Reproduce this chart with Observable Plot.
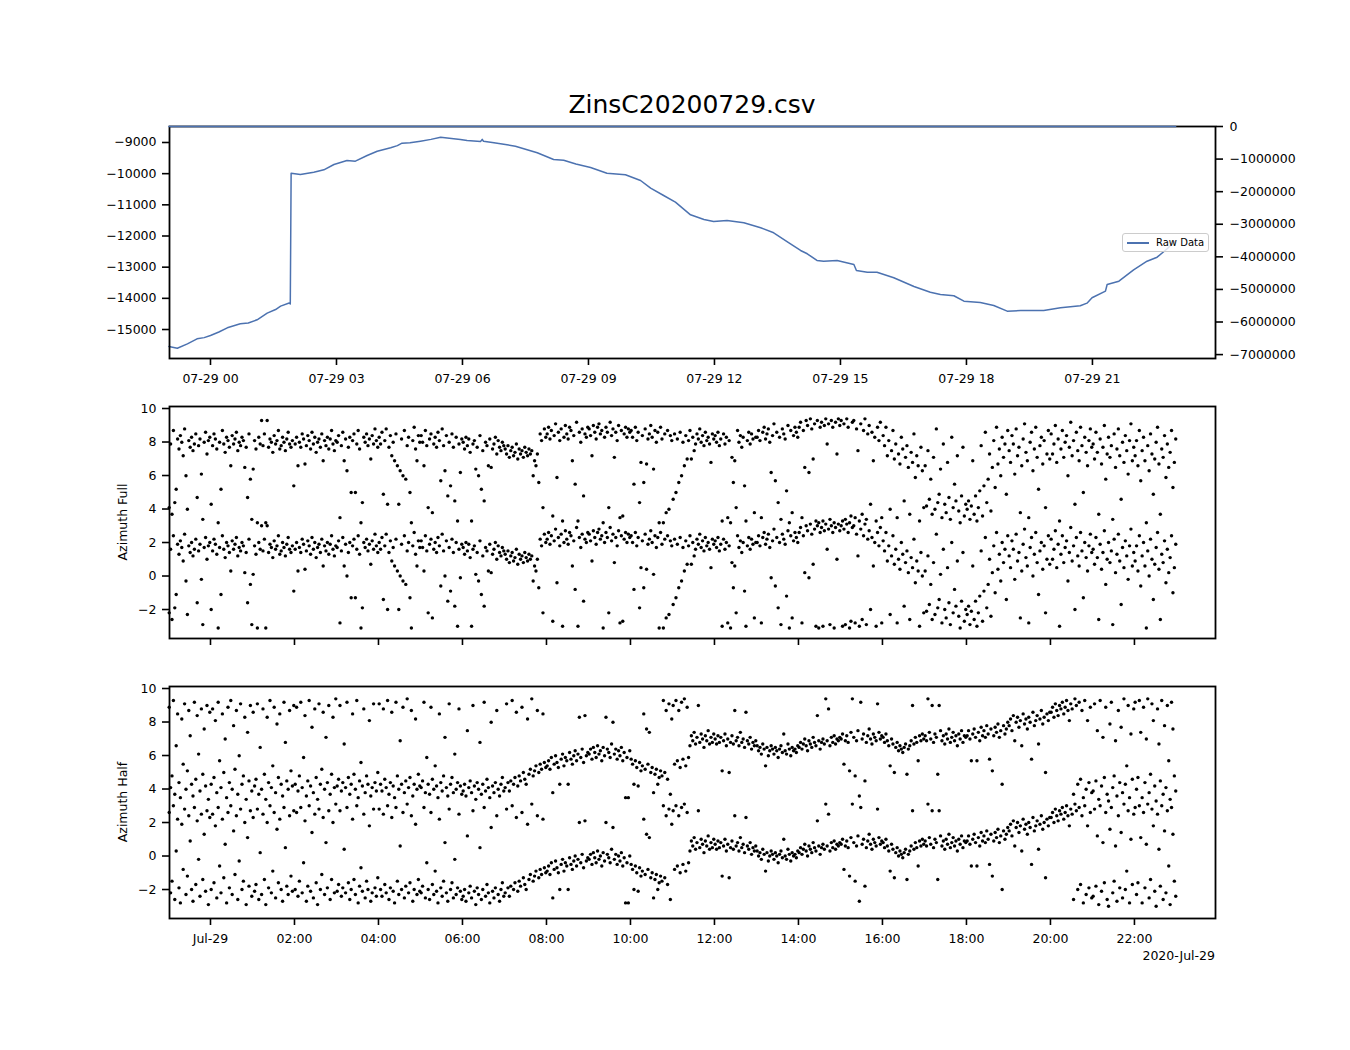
<!DOCTYPE html>
<html>
<head>
<meta charset="utf-8">
<script src="https://cdn.jsdelivr.net/npm/d3@7"></script>
<script src="https://cdn.jsdelivr.net/npm/@observablehq/plot@0.6"></script>
<style>
  html, body { margin: 0; padding: 0; background: #fff; }
  #fig { position: relative; width: 1350px; height: 1050px; background: #fff; font-family: "DejaVu Sans", sans-serif; color: #000; overflow: hidden; }
  #fig .layer { position: absolute; left: 0; }
  #fig svg { display: block; }
  .title { position: absolute; left: 169px; width: 1046px; top: 90px; line-height: 30px; text-align: center; font-size: 25px; }
  .ylab { position: absolute; left: 122px; transform: translate(-50%, -50%) rotate(-90deg); white-space: nowrap; font-size: 12.5px; }
  .offset { position: absolute; right: 135px; top: 948px; font-size: 12.5px; }
  .legend { position: absolute; left: 1122px; top: 233px; width: 85px; height: 17px; border: 1px solid #cccccc; border-radius: 3px; background: rgba(255,255,255,0.8); font-size: 10px; }
  .legend .sw { position: absolute; left: 4px; top: 8px; width: 22px; height: 1.5px; background: #4C72B0; }
  .legend .lt { position: absolute; left: 33px; top: 2px; line-height: 13px; }
</style>
</head>
<body>
<div id="fig">
  <div class="title">ZinsC20200729.csv</div>
  <div class="layer" id="p1" style="top:0"></div>
  <div class="layer" id="p1r" style="top:0"></div>
  <div class="legend"><div class="sw"></div><div class="lt">Raw Data</div></div>
  <div class="layer" id="p2" style="top:395px"></div>
  <div class="layer" id="p3" style="top:655px"></div>
  <div class="ylab" style="top:522px">Azimuth Full</div>
  <div class="ylab" style="top:802px">Azimuth Half</div>
  <div class="offset">2020-Jul-29</div>
</div>
<script>
// ---------------- DATA ----------------
// Raw data line: hours relative to 2020-07-29 00:00 (UTC) and values
const rawHours = [-0.99,-0.79,-0.55,-0.32,-0.15,0.0,0.2,0.4,0.71,0.9,1.11,1.35,1.55,1.67,1.89,1.90,1.92,2.14,2.46,2.70,2.94,3.25,3.45,3.73,3.97,4.29,4.45,4.56,4.75,5.0,5.25,5.48,5.79,5.95,6.11,6.43,6.47,6.50,6.75,7.06,7.26,7.78,8.17,8.41,8.7,9.05,9.44,9.88,10.24,10.48,10.79,11.07,11.43,11.75,11.98,12.30,12.70,13.10,13.41,13.81,14.05,14.21,14.44,14.60,14.92,15.32,15.38,15.64,15.87,16.27,16.75,17.14,17.38,17.70,17.94,18.33,18.65,18.97,19.29,19.84,20.24,20.71,20.87,20.99,21.31,21.35,21.63,21.98,22.30,22.54,22.78,22.98];
const rawValues = [-15545,-15600,-15460,-15300,-15260,-15190,-15080,-14945,-14817,-14790,-14688,-14475,-14360,-14251,-14143,-14180,-9985,-10027,-9952,-9876,-9706,-9577,-9600,-9417,-9279,-9170,-9100,-9022,-9010,-8958,-8900,-8830,-8881,-8904,-8936,-8968,-8900,-8960,-9010,-9075,-9118,-9331,-9545,-9567,-9690,-9800,-9985,-10036,-10219,-10466,-10700,-10915,-11320,-11470,-11534,-11502,-11576,-11736,-11897,-12250,-12465,-12570,-12785,-12808,-12785,-12914,-13106,-13161,-13161,-13340,-13620,-13802,-13876,-13918,-14091,-14133,-14229,-14412,-14390,-14390,-14303,-14239,-14155,-13982,-13770,-13555,-13449,-13084,-12808,-12680,-12410,-12150];
// second (right-axis) series: flat at 0 over the same span
const rightHours = [-0.99, 22.98];
const rightValues = [0, 0];

// Azimuth samples: one every 2 minutes starting 2020-07-28 23:01; each shown at a and a+2π
const sampleStartHour = -59 / 60;
const sampleStepMinutes = 2;
const fullAngles = [
 -2.2,1.6,-2.6,2.4,-1.9,-1.1,1.9,1.3,2.1,1.7,0.9,2.5,-0.3,-2.3,1.8,1.4,2.0,1.2,1.6,2.2,-1.6,1.5,1.9,-0.2,-2.9,1.7,2.3,1.0,1.8,2.0,
 -2.0,1.5,2.2,1.9,1.3,-3.1,1.7,-1.1,2.4,1.6,1.1,2.0,1.8,1.4,0.3,2.1,1.6,1.9,2.3,1.2,1.7,1.5,2.0,1.8,0.2,1.4,-1.6,2.2,-0.5,-2.9,
 0.1,1.8,1.3,-3.1,2.0,1.6,3.0,1.5,2.2,-3.1,3.0,1.4,1.9,1.7,1.1,2.1,1.6,1.8,2.4,1.3,1.5,2.0,1.7,1.2,1.9,2.3,1.6,1.4,1.8,-0.9,
 1.6,2.0,0.3,1.7,1.4,2.2,1.9,0.4,1.5,2.1,1.8,1.3,2.3,1.6,2.0,1.1,1.7,1.9,1.4,2.2,0.6,1.8,1.5,2.0,1.3,1.9,2.4,1.6,1.2,1.8,
 1.7,2.1,-2.8,1.5,2.3,0.6,1.9,0.0,1.4,2.0,-1.3,1.8,2.2,-1.3,1.6,2.4,1.3,-3.1,-1.9,2.0,1.7,2.2,1.5,1.9,0.7,2.1,1.6,2.5,1.8,1.4,
 2.0,1.6,2.3,-1.4,1.8,2.5,-2.0,1.4,2.1,0.9,1.7,0.6,2.2,0.3,-2.0,0.0,1.9,-0.3,2.4,-0.5,1.5,2.0,-1.3,-3.1,1.8,2.6,1.3,0.6,2.1,1.7,
 2.1,1.7,0.3,2.4,1.5,-2.2,1.9,2.2,-2.5,1.6,2.0,1.4,2.3,1.8,-0.6,2.5,1.5,0.0,2.1,-1.5,1.7,-0.9,2.2,1.4,-1.8,2.0,-3.0,1.6,-0.1,1.9,
 1.7,1.3,2.0,1.5,1.9,1.1,-3.0,1.6,1.8,0.1,1.4,-0.3,2.1,-1.1,1.2,-1.8,1.7,1.5,0.3,1.9,0.2,1.3,1.6,2.0,1.0,1.8,1.4,1.2,1.7,1.5,
 1.3,1.0,1.5,0.8,1.2,1.4,0.9,1.1,1.6,0.7,1.3,1.0,1.2,0.8,1.4,1.1,0.9,1.3,1.0,1.2,-0.3,0.6,0.3,1.0,-0.7,2.2,1.8,-2.2,2.5,2.0,
 2.2,2.6,1.9,2.4,-2.7,2.1,2.8,-0.4,2.3,1.8,2.5,-3.0,2.0,2.7,2.2,1.9,2.6,2.4,0.6,2.1,-0.8,2.9,-3.0,2.3,1.7,2.5,-1.5,2.2,2.0,2.6,
 2.5,2.1,0.9,2.7,2.3,1.9,2.6,2.8,2.2,2.4,-3.1,2.0,2.6,2.3,-2.2,2.9,2.1,2.5,0.8,2.3,1.8,2.7,-2.8,2.4,-2.7,2.2,2.6,2.0,2.5,2.3,
 2.4,2.0,-0.8,2.6,1.8,2.3,-1.9,0.5,2.1,-0.7,2.5,0.4,1.9,2.2,2.7,2.0,0.1,2.4,1.7,2.3,-3.1,2.6,1.9,-3.1,2.2,-2.5,2.4,-2.3,2.1,1.8,
 -1.7,2.2,-1.3,1.9,-0.7,2.3,-0.3,1.7,0.3,2.1,0.7,1.8,2.4,0.7,2.0,1.2,1.6,2.2,1.9,2.5,1.7,2.1,1.5,2.3,1.8,2.0,1.6,0.5,2.2,1.9,
 2.1,1.7,2.3,1.5,1.9,-3.0,2.2,1.6,2.0,-2.8,1.8,-3.1,0.8,-0.7,0.6,-2.2,2.4,1.7,2.1,1.4,2.0,-0.9,-3.0,1.8,2.3,1.6,2.2,1.9,-2.5,2.0,
 2.0,2.4,1.8,-2.8,2.3,2.6,1.9,2.2,2.5,1.7,-0.1,2.1,2.8,-0.6,2.3,-1.9,2.0,-2.9,2.5,2.2,1.9,-1.2,2.7,-3.1,2.4,-2.5,2.1,2.6,2.3,2.0,
 2.6,2.9,-2.8,2.4,0.2,3.0,2.7,-0.1,3.1,2.5,0.7,2.8,-3.0,3.0,-3.1,2.6,2.9,-3.0,2.7,3.1,1.6,2.8,-2.9,3.0,2.6,-3.1,2.9,1.0,3.1,2.7,
 3.0,-3.0,2.8,-2.9,3.1,2.6,-3.1,-2.7,2.9,3.0,-2.8,2.5,1.2,-3.0,2.8,-2.6,2.4,3.1,-2.9,2.2,2.7,-2.0,2.3,0.6,2.0,-3.0,2.6,1.8,2.9,-2.8,
 2.1,1.5,2.6,0.9,1.8,-2.3,1.2,2.4,0.7,1.6,-2.8,1.0,0.4,2.0,1.3,-1.8,0.8,1.5,0.2,-2.6,1.1,0.5,2.2,-0.4,0.9,0.3,-3.0,1.4,0.0,-2.2,
 0.3,-2.1,1.2,-1.7,-0.5,-2.6,0.8,-2.3,2.5,-1.9,-1.4,0.1,-2.8,1.6,-2.0,-2.5,0.5,-1.6,-2.9,2.0,-2.2,-0.8,-1.8,0.9,-2.4,-3.1,-1.5,1.4,-2.7,-2.0,
 -2.3,-1.8,-2.9,-2.1,0.6,-2.6,-1.5,-3.0,-2.2,-1.2,1.5,-2.7,-0.9,2.3,-1.9,-0.5,1.0,-2.4,0.2,1.8,-1.0,2.6,0.4,1.3,-0.3,2.0,0.8,1.6,-1.4,2.4,
 1.2,0.5,2.1,1.6,-0.2,2.5,0.9,1.4,-2.5,0.3,1.9,2.8,1.1,0.6,-2.8,1.7,2.3,0.0,1.3,2.6,0.8,-1.1,1.5,2.0,0.4,1.8,-2.2,1.0,2.4,0.7,
 2.2,1.0,1.6,2.7,0.5,1.9,-3.0,1.3,2.4,0.8,1.7,2.1,-0.3,1.4,2.9,0.9,1.8,-2.0,2.3,1.2,0.6,2.6,1.5,-1.3,2.0,1.1,0.3,1.8,2.5,1.4,
 1.6,0.7,2.3,1.1,-2.6,1.9,0.4,1.4,2.7,-0.5,1.0,2.0,0.8,1.5,-2.9,2.2,0.2,1.3,2.5,0.9,-1.7,1.7,0.5,2.1,1.2,-0.2,1.8,2.8,0.6,1.4,
 0.9,1.8,0.3,2.4,-0.6,1.2,2.0,0.6,-3.1,1.5,0.0,2.2,1.0,-1.4,0.7,1.7,2.6,0.4,-2.6,1.3,0.8,2.1,-0.4,1.6,0.2,1.1,2.4,-1.0,0.5,1.9
];
const halfAngles = [
 2.6,-2.2,-1.5,3.0,-2.6,0.3,2.2,-1.9,-2.8,1.9,-0.8,2.8,-2.3,-1.2,2.4,0.9,-2.0,-2.7,2.9,-1.7,2.1,-0.2,-2.4,2.5,-1.4,1.3,-2.1,2.7,-2.9,2.3,
 -2.0,2.5,-1.6,1.8,-2.5,2.9,-0.6,-2.2,2.2,-1.3,0.7,-2.8,2.6,-1.9,3.0,-2.3,1.5,-1.1,2.4,-2.6,-0.3,2.8,-2.0,-1.5,2.0,-2.9,1.1,-1.8,2.7,-2.4,
 2.3,-2.1,-1.7,2.8,-2.6,0.2,-2.3,2.5,-1.4,-2.9,2.0,-1.9,3.0,-2.2,-0.9,2.6,-2.5,1.6,-1.6,2.2,-2.0,-2.7,2.9,0.5,-1.8,-2.3,2.4,-1.2,-2.1,2.7,
 -2.0,2.6,-2.4,-1.5,2.9,-2.2,-0.4,2.1,-2.7,-1.8,3.0,-2.1,1.4,-2.5,2.5,-1.6,-2.9,2.8,-2.0,-1.1,2.3,-2.3,0.8,-1.9,2.7,-2.6,-1.4,2.0,-2.2,3.1,
 -2.1,-1.7,2.7,-2.4,-1.9,0.4,-2.2,2.9,-1.6,-2.6,-2.0,2.2,-1.4,-2.3,3.0,-2.8,-1.8,-0.7,-2.1,2.5,-2.5,-1.5,-2.0,1.8,-2.7,-2.2,2.8,-1.9,-2.4,-1.3,
 2.8,-2.0,-2.4,2.5,-1.7,-2.2,3.0,-2.6,-1.9,2.3,-2.1,-2.8,2.9,-1.5,-2.3,0.6,-2.0,2.6,-2.5,-1.8,3.1,-2.2,-1.6,2.4,-2.7,-2.0,1.9,-2.3,-1.4,-2.1,
 -2.2,-1.8,2.9,-2.5,-0.4,-2.0,-2.6,2.6,-1.7,-2.3,-0.9,-2.1,-2.8,2.2,-1.9,-2.4,-1.5,0.8,-2.2,-2.7,2.8,-2.0,-1.6,-2.5,-0.2,-2.3,-1.9,2.5,-2.1,-2.6,
 -2.4,-2.0,-2.7,1.2,-2.2,-1.8,-2.5,2.7,-2.1,-2.9,-1.9,-2.3,0.5,-2.6,-2.0,2.9,-2.4,-1.7,-2.2,-2.8,1.7,-2.1,-2.5,-1.9,2.4,-2.3,-2.7,-2.0,-1.6,-2.4,
 -2.2,2.8,-1.9,-2.4,-1.8,3.0,-2.0,-1.6,2.3,-2.1,-1.5,-1.8,2.6,-1.3,-1.7,-2.0,1.9,-1.4,-1.1,3.1,-1.5,-1.2,-0.9,2.4,-1.3,-0.8,-1.1,2.2,-0.7,-1.0,
 -0.9,-0.6,-1.1,-0.4,-2.5,-0.8,-0.3,-0.7,-1.0,-2.0,-0.5,-0.2,-0.9,-0.4,-0.6,-2.0,-0.1,-0.5,-0.8,-0.3,0.0,-0.6,-0.2,2.0,-0.4,0.1,-0.7,2.1,-0.3,-0.1,
 -0.2,0.1,-0.5,0.2,-0.1,-0.4,0.3,-0.2,0.0,-0.6,0.2,-0.3,2.0,0.1,-0.1,-0.4,0.4,1.7,-0.2,0.1,-0.5,0.0,-0.3,0.2,-0.6,-0.1,-2.8,-0.4,-2.8,0.0,
 -0.5,-0.8,-2.0,-0.6,-1.0,-2.1,-0.7,-1.2,-0.9,2.2,-1.1,1.3,-0.8,1.1,-1.3,-1.0,-2.5,-1.4,-1.1,-2.0,-1.6,-1.2,-1.5,3.0,-1.3,2.4,-1.7,2.8,-2.6,1.9,
 2.7,-0.8,3.0,-0.6,2.4,-1.0,2.9,-0.5,3.1,-0.9,2.6,-0.4,0.3,0.9,0.6,1.1,0.4,0.8,2.7,0.5,1.0,0.7,0.2,0.9,0.6,1.2,0.4,0.8,0.5,1.0,
 0.7,0.4,0.9,0.5,0.8,-1.2,0.6,1.0,0.3,0.7,-1.3,0.5,0.9,0.4,2.4,0.6,0.8,0.3,1.1,0.5,0.7,0.2,2.3,0.6,0.4,0.8,0.1,0.5,0.3,0.6,
 0.3,0.0,0.2,-0.2,0.4,0.1,-0.9,0.2,-0.3,0.0,0.3,0.1,-0.2,0.2,0.0,-0.4,0.1,0.3,-0.1,1.0,0.0,-0.2,0.4,0.1,-0.3,0.2,0.0,0.1,-0.1,0.3,
 0.2,0.5,0.1,0.4,0.7,0.3,0.0,0.6,0.4,0.2,0.8,0.5,0.3,2.1,0.6,0.1,0.5,0.7,0.4,3.1,0.6,2.5,0.3,0.8,0.5,0.9,0.4,0.7,0.6,0.8,
 0.7,1.0,-0.8,0.6,0.9,0.5,-1.2,1.1,3.1,0.8,-1.5,0.6,1.2,-2.7,2.9,0.7,1.0,-1.8,0.5,0.9,1.3,0.7,0.4,1.0,0.8,0.6,2.8,1.1,0.7,0.9,
 0.8,0.5,1.0,0.6,0.3,-0.9,0.7,0.4,-1.3,0.2,0.5,0.0,0.3,0.1,-0.1,0.2,0.4,-1.4,0.1,0.3,0.6,2.7,0.4,0.8,0.5,-0.6,0.9,0.6,1.0,0.7,
 0.9,0.6,3.1,1.1,0.7,2.7,0.5,1.0,0.8,-1.4,2.7,1.2,0.6,0.9,0.4,1.0,0.7,1.3,0.5,0.8,1.1,0.6,0.9,0.3,1.0,0.7,1.2,0.5,0.9,0.8,
 0.9,1.2,0.7,-0.6,1.0,1.3,0.8,-0.6,1.1,0.6,1.4,0.9,1.2,0.8,1.5,1.0,-0.5,1.3,-1.2,0.9,1.4,1.1,1.6,0.8,1.2,-2.0,1.5,1.0,1.3,1.7,
 1.5,1.9,1.2,2.1,0.6,1.7,2.0,1.4,1.8,0.3,2.2,1.6,1.9,1.3,2.0,1.7,-0.5,2.3,1.5,1.8,2.1,0.4,1.9,2.4,1.6,2.0,-1.3,2.2,1.8,2.3,
 2.3,2.6,2.0,2.8,2.4,2.1,2.7,2.5,2.9,2.2,2.6,3.0,2.4,1.8,2.8,2.5,-2.6,3.1,2.7,-2.0,2.9,-1.7,2.4,-2.8,3.0,-2.3,1.8,-1.9,2.6,-2.5,
 -2.4,2.8,-1.8,1.2,-2.9,3.0,-2.1,0.8,-1.6,2.6,-2.6,-3.0,1.6,2.9,-2.2,-1.5,0.6,-2.7,2.4,-1.9,1.4,-2.5,3.1,-2.0,-0.9,2.7,-2.8,1.0,-1.7,2.5,
 2.9,-2.3,-1.6,3.0,1.1,-2.8,2.6,-1.9,0.7,3.1,-2.5,-1.4,2.8,1.8,-2.1,-3.0,2.5,0.4,-1.8,3.0,-2.6,1.5,-2.2,2.7,-0.6,-2.9,2.9,1.3,-1.5,-2.4
];

// Axis ticks
const leftTicks = [-15000, -14000, -13000, -12000, -11000, -10000, -9000];
const rightTicks = [0, -1000000, -2000000, -3000000, -4000000, -5000000, -6000000, -7000000];
const azTicks = [-2, 0, 2, 4, 6, 8, 10];
const topTickHours = [0, 3, 6, 9, 12, 15, 18, 21];
const bottomTickHours = [0, 2, 4, 6, 8, 10, 12, 14, 16, 18, 20, 22];

// ---------------- BUILD ----------------
const DAY0 = Date.UTC(2020, 6, 29);
const toDate = h => new Date(DAY0 + h * 3600e3);
const xDomain = [toDate(-0.976), toDate(23.93)];
const raw = rawHours.map((h, i) => ({t: toDate(h), v: rawValues[i]}));
const right = rightHours.map((h, i) => ({t: toDate(h), v: rightValues[i]}));
const TAU = 2 * Math.PI;
const toPts = arr => arr.flatMap((a, i) => {
  const t = toDate(sampleStartHour + i * sampleStepMinutes / 60);
  return [{t, y: a}, {t, y: a + TAU}];
});
const fullPts = toPts(fullAngles);
const halfPts = toPts(halfAngles);
const topTicks = topTickHours.map(toDate);
const botTicks = bottomTickHours.map(toDate);

const base = (h, mt, mb) => ({
  width: 1350, height: h, marginTop: mt, marginBottom: mb, marginLeft: 169, marginRight: 135,
  style: {background: "transparent", fontSize: "12.5px", fontFamily: "'DejaVu Sans', sans-serif", color: "#000", overflow: "visible"}
});
const frame = () => Plot.frame({stroke: "#000", strokeWidth: 1.8});
const fmtInt = d3.format("d");
const fmtBottom = d => d.getUTCHours() === 0 ? "Jul-29" : d3.utcFormat("%H:%M")(d);

const p1 = Plot.plot({
  ...base(395, 126, 37),
  x: {type: "utc", domain: xDomain},
  y: {domain: [-15930, -8487]},
  marks: [
    Plot.line(raw, {x: "t", y: "v", stroke: "#4C72B0", strokeWidth: 1.5}),
    frame(),
    Plot.axisX({ticks: topTicks, tickFormat: d3.utcFormat("%m-%d %H"), tickSize: 7, tickPadding: 9, strokeWidth: 1.6, label: null}),
    Plot.axisY({ticks: leftTicks, tickFormat: fmtInt, tickSize: 7, tickPadding: 6, strokeWidth: 1.6, label: null})
  ]
});
const p1r = Plot.plot({
  ...base(395, 126, 37),
  x: {type: "utc", domain: xDomain, axis: null},
  y: {domain: [-7120000, 0]},
  marks: [
    Plot.line(right, {x: "t", y: "v", stroke: "#4C72B0", strokeWidth: 1.5}),
    Plot.axisY({anchor: "right", ticks: rightTicks, tickFormat: fmtInt, tickSize: 7, tickPadding: 7, strokeWidth: 1.6, label: null})
  ]
});
const scatter = (pts, h, mt, mb, labels) => Plot.plot({
  ...base(h, mt, mb),
  x: {type: "utc", domain: xDomain},
  y: {domain: [-3.73, 10.12]},
  marks: [
    Plot.dot(pts, {x: "t", y: "y", r: 1.7, fill: "#000"}),
    frame(),
    Plot.axisX({ticks: botTicks, tickFormat: labels ? fmtBottom : () => "", tickSize: 7, tickPadding: 9, strokeWidth: 1.6, label: null}),
    Plot.axisY({ticks: azTicks, tickSize: 7, tickPadding: 6, strokeWidth: 1.6, label: null})
  ]
});
const p2 = scatter(fullPts, 260, 11, 17, false);
const p3 = scatter(halfPts, 340, 31, 77, true);

document.getElementById("p1").appendChild(p1);
document.getElementById("p1r").appendChild(p1r);
document.getElementById("p2").appendChild(p2);
document.getElementById("p3").appendChild(p3);
</script>
</body>
</html>
